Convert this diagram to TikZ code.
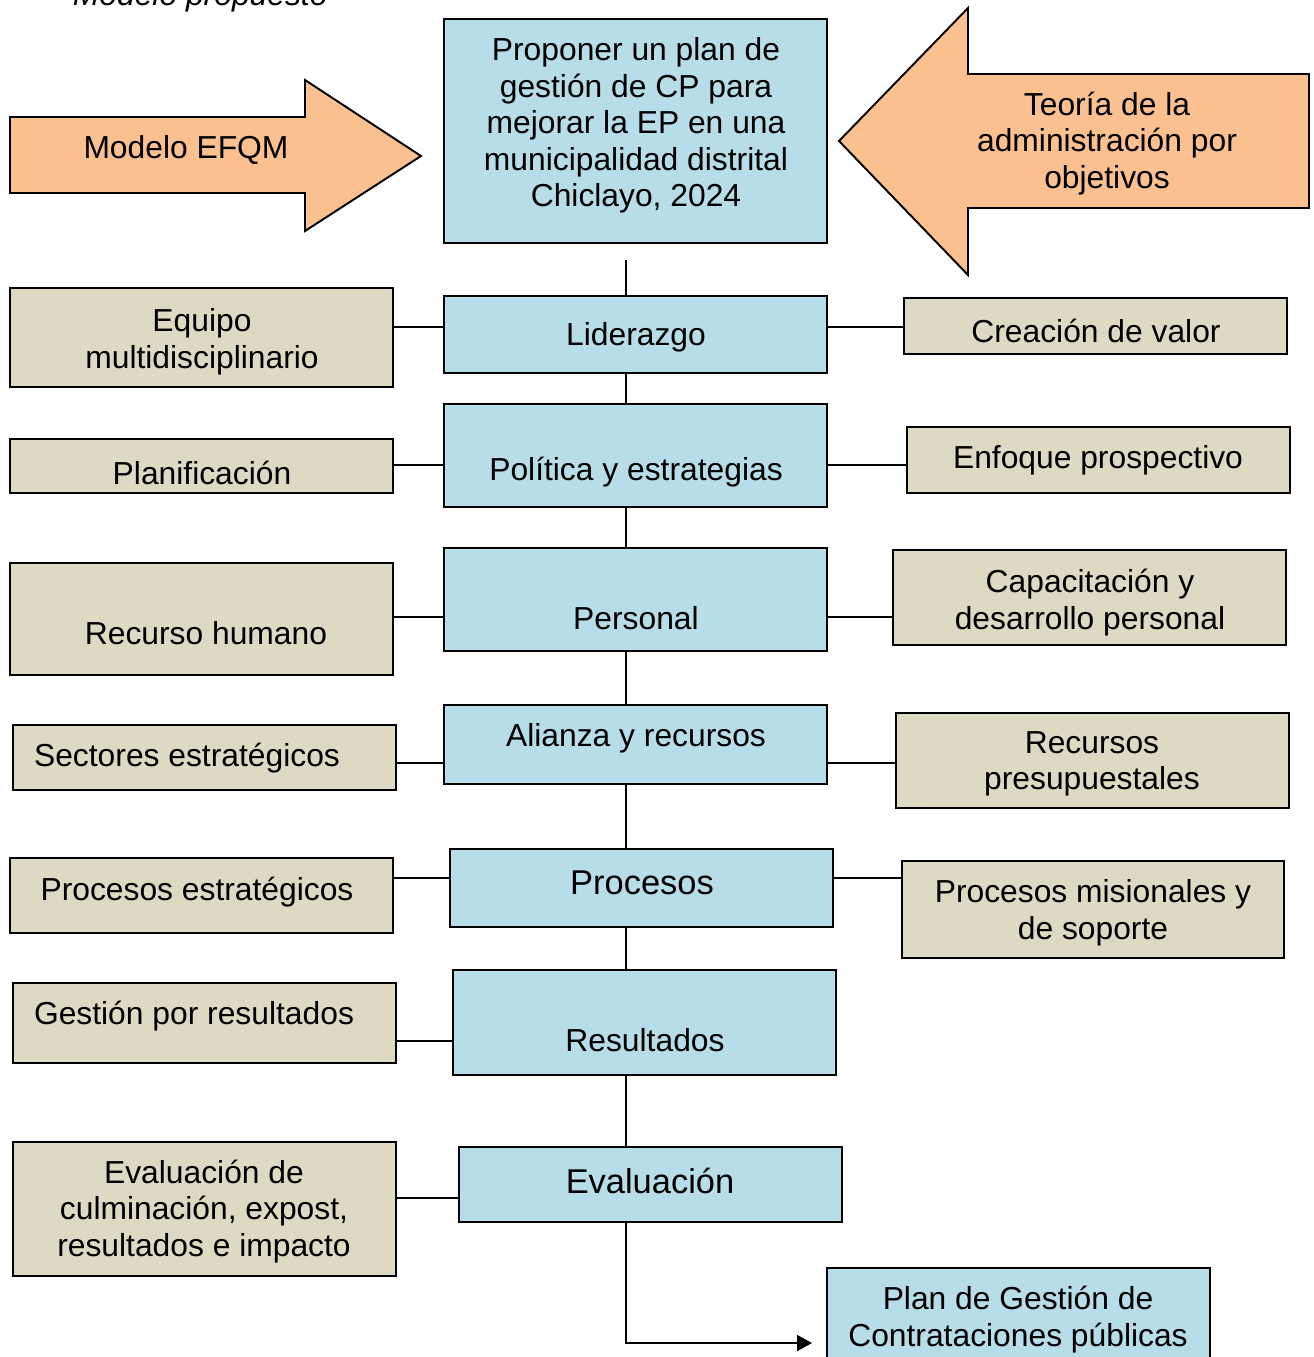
\documentclass[tikz,border=0pt]{standalone}
\usepackage{fontspec}
\setmainfont{Liberation Sans}
\usetikzlibrary{fit,arrows.meta}
\definecolor{boxblue}{RGB}{183,221,232}
\definecolor{boxtan}{RGB}{221,217,195}
\definecolor{arroworange}{RGB}{250,192,144}

\begin{document}
\begin{tikzpicture}[x=0.02cm,y=-0.02cm,
  line width=1.1pt,
  bluebox/.style={draw, fill=boxblue, inner sep=0pt},
  tanbox/.style={draw, fill=boxtan, inner sep=0pt},
  bigarrow/.style={draw, fill=arroworange, line join=miter},
  lbl/.style={align=center, font=\fontsize{18.1}{20.8}\selectfont, inner sep=0pt, yshift=-0.06cm},
  biglbl/.style={align=center, font=\fontsize{19.6}{22.5}\selectfont, inner sep=0pt, yshift=-0.04cm},
  link/.style={draw, line width=1.1pt}]

\useasboundingbox (0,0) rectangle (1314,1357);
\fill[white] (0,0) rectangle (1314,1357);

% caption, cut by the page edge
\node[anchor=base west, inner sep=0pt, font=\fontsize{18.1}{20.8}\selectfont\itshape] (cap) at (72,5) {Modelo propuesto};

% side arrows
\path[bigarrow] (10,117) -- (305,117) -- (305,80) -- (421,156) -- (305,231) -- (305,193) -- (10,193) -- cycle;
\node[lbl] (efqm) at (186,147) {Modelo EFQM};
\path[bigarrow] (1309,74) -- (968,74) -- (968,8) -- (839,141) -- (968,275) -- (968,208) -- (1309,208) -- cycle;
\node[lbl] (apo) at (1107,140.5) {Teoría de la\\administración por\\objetivos};

% central column
\node[bluebox, fit={(444,19) (827,243)}] (goal) {};
\node[lbl] (goal-t) at (636,122.5) {Proponer un plan de\\gestión de CP para\\mejorar la EP en una\\municipalidad distrital\\Chiclayo, 2024};

\node[bluebox, fit={(444,296) (827,373)}] (lid) {};
\node[lbl] (lid-t) at (636,334) {Liderazgo};
\node[bluebox, fit={(444,404) (827,507)}] (pol) {};
\node[lbl] (pol-t) at (636,469) {Política y estrategias};
\node[bluebox, fit={(444,548) (827,651)}] (per) {};
\node[lbl] (per-t) at (636,615) {Personal};
\node[bluebox, fit={(444,705) (827,784)}] (ali) {};
\node[lbl] (ali-t) at (636,735) {Alianza y recursos};
\node[bluebox, fit={(450,849) (833,927)}] (pro) {};
\node[biglbl] (pro-t) at (642,881) {Procesos};
\node[bluebox, fit={(453,970) (836,1075)}] (res) {};
\node[lbl] (res-t) at (645,1037) {Resultados};
\node[bluebox, fit={(459,1147) (842,1222)}] (eva) {};
\node[biglbl] (eva-t) at (650,1179) {Evaluación};
\node[bluebox, fit={(827,1268) (1210,1375)}] (plan) {};
\node[lbl] (plan-t) at (1018,1316.5) {Plan de Gestión de\\Contrataciones públicas};

% left column
\node[tanbox, fit={(10,288) (393,387)}] (eq) {};
\node[lbl] (eq-t) at (202,338.5) {Equipo\\multidisciplinario};
\node[tanbox, fit={(10,439) (393,493)}] (plf) {};
\node[lbl] (plf-t) at (202,470) {Planificación};
\node[tanbox, fit={(10,563) (393,675)}] (rh) {};
\node[lbl] (rh-t) at (206,630) {Recurso humano};
\node[tanbox, fit={(13,725) (396,790)}] (sec) {};
\node[lbl] (sec-t) at (187,755) {Sectores estratégicos};
\node[tanbox, fit={(10,858) (393,933)}] (pe) {};
\node[lbl] (pe-t) at (197,889) {Procesos estratégicos};
\node[tanbox, fit={(13,983) (396,1063)}] (gr) {};
\node[lbl] (gr-t) at (194,1013) {Gestión por resultados};
\node[tanbox, fit={(13,1142) (396,1276)}] (ev) {};
\node[lbl] (ev-t) at (204,1208.5) {Evaluación de\\culminación, expost,\\resultados e impacto};

% right column
\node[tanbox, fit={(904,298) (1287,354)}] (cv) {};
\node[lbl] (cv-t) at (1096,328) {Creación de valor};
\node[tanbox, fit={(907,427) (1290,493)}] (ep) {};
\node[lbl] (ep-t) at (1098,457) {Enfoque prospectivo};
\node[tanbox, fit={(893,550) (1286,645)}] (cdp) {};
\node[lbl] (cdp-t) at (1090,599.5) {Capacitación y\\desarrollo personal};
\node[tanbox, fit={(896,713) (1289,808)}] (rp) {};
\node[lbl] (rp-t) at (1092,761) {Recursos\\presupuestales};
\node[tanbox, fit={(902,861) (1284,958)}] (pm) {};
\node[lbl] (pm-t) at (1093,909.5) {Procesos misionales y\\de soporte};

% spine
\coordinate (spine) at (626,260);
\coordinate (turn) at (626,1343);
\draw[link] (spine) -- (spine |- lid.north);
\draw[link] (spine |- lid.south) -- (spine |- pol.north);
\draw[link] (spine |- pol.south) -- (spine |- per.north);
\draw[link] (spine |- per.south) -- (spine |- ali.north);
\draw[link] (spine |- ali.south) -- (spine |- pro.north);
\draw[link] (spine |- pro.south) -- (spine |- res.north);
\draw[link] (spine |- res.south) -- (spine |- eva.north);
\draw[link, -{Triangle[length=0.3cm, width=0.32cm]}, shorten >=0.28cm]
  (spine |- eva.south) -- (turn) -- (plan.west |- turn);

% branches
\draw[link] (eq.east |- 0,327) -- (lid.west |- 0,327);
\draw[link] (lid.east |- 0,327) -- (cv.west |- 0,327);
\draw[link] (plf.east |- 0,465) -- (pol.west |- 0,465);
\draw[link] (pol.east |- 0,465) -- (ep.west |- 0,465);
\draw[link] (rh.east |- 0,617) -- (per.west |- 0,617);
\draw[link] (per.east |- 0,617) -- (cdp.west |- 0,617);
\draw[link] (sec.east |- 0,763) -- (ali.west |- 0,763);
\draw[link] (ali.east |- 0,763) -- (rp.west |- 0,763);
\draw[link] (pe.east |- 0,878) -- (pro.west |- 0,878);
\draw[link] (pro.east |- 0,878) -- (pm.west |- 0,878);
\draw[link] (gr.east |- 0,1041) -- (res.west |- 0,1041);
\draw[link] (ev.east |- 0,1198) -- (eva.west |- 0,1198);
\end{tikzpicture}
\end{document}
